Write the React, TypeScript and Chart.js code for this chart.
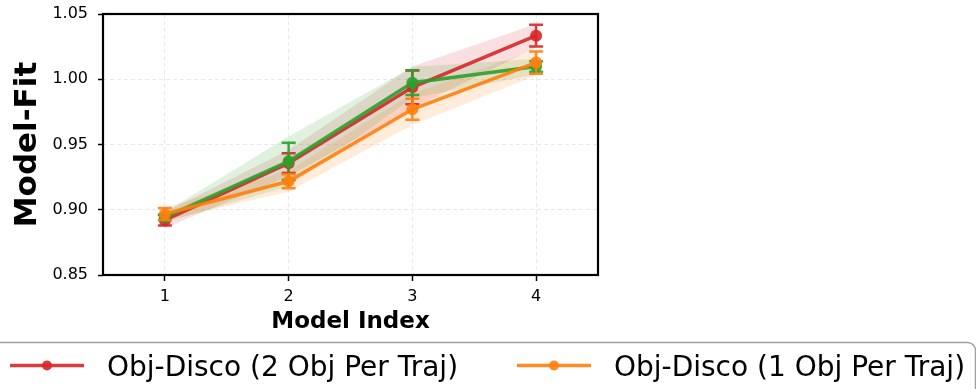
import { useEffect, useRef } from 'react';
import { Chart, registerables } from 'chart.js';

Chart.register(...registerables);

const categories = ['1', '2', '3', '4'];
const yTicks = [0.85, 0.9, 0.95, 1.0, 1.05];

const seriesLabels = ['Obj-Disco (2 Obj Per Traj)', 'Obj-Disco (1 Obj Per Traj)', 'Obj-Disco'];

const redMean = [0.892, 0.9357, 0.9938, 1.0334];
const redErr = [0.004, 0.0075, 0.013, 0.0083];
const redBand = [0.006, 0.01, 0.016, 0.009];

const orangeMean = [0.8967, 0.9218, 0.977, 1.0128];
const orangeErr = [0.0046, 0.0054, 0.008, 0.0085];
const orangeBand = [0.005, 0.008, 0.012, 0.01];

const greenMean = [0.8942, 0.9371, 0.9974, 1.0097];
const greenErr = [0.002, 0.0143, 0.0095, 0.004];
const greenBand = [0.004, 0.019, 0.012, 0.006];

const RED = '214,39,40';
const ORANGE = '255,127,14';
const GREEN = '44,160,44';

type Series = { label: string; rgb: string; mean: number[]; err: number[]; band: number[]; order: number };

const series: Series[] = [
  { label: seriesLabels[0], rgb: RED, mean: redMean, err: redErr, band: redBand, order: 2 },
  { label: seriesLabels[1], rgb: ORANGE, mean: orangeMean, err: orangeErr, band: orangeBand, order: 0 },
  { label: seriesLabels[2], rgb: GREEN, mean: greenMean, err: greenErr, band: greenBand, order: 1 },
];

const FONT = "'DejaVu Sans', sans-serif";

export default function App() {
  const ref = useRef<HTMLCanvasElement | null>(null);

  useEffect(() => {
    const canvas = ref.current;
    if (!canvas) return;
    document.body.style.margin = '0';

    const datasets: any[] = [];
    series.forEach((s) => {
      datasets.push({
        label: s.label + ' upper',
        data: s.mean.map((m, i) => m + s.band[i]),
        borderWidth: 0,
        pointRadius: 0,
        fill: false,
        order: 10 + s.order,
      });
      datasets.push({
        label: s.label + ' lower',
        data: s.mean.map((m, i) => m - s.band[i]),
        borderWidth: 0,
        pointRadius: 0,
        fill: '-1',
        backgroundColor: `rgba(${s.rgb},0.15)`,
        order: 10 + s.order,
      });
      datasets.push({
        label: s.label,
        data: s.mean,
        borderColor: `rgba(${s.rgb},0.9)`,
        backgroundColor: `rgba(${s.rgb},0.9)`,
        pointBackgroundColor: `rgba(${s.rgb},0.9)`,
        pointBorderWidth: 0,
        pointRadius: 6,
        borderWidth: 3.5,
        fill: false,
        order: s.order,
        errors: s.err,
        rgb: s.rgb,
      });
    });

    const errorBarPlugin = {
      id: 'errorBars',
      afterDatasetDraw(chart: any, args: any) {
        const ds = chart.data.datasets[args.index];
        if (!ds.errors) return;
        const ctx = chart.ctx;
        const x = chart.scales.x;
        const y = chart.scales.y;
        ctx.save();
        ctx.strokeStyle = `rgba(${ds.rgb},0.9)`;
        ctx.lineWidth = 2.5;
        ds.data.forEach((v: number, i: number) => {
          const px = x.getPixelForValue(i);
          const top = y.getPixelForValue(v + ds.errors[i]);
          const bot = y.getPixelForValue(v - ds.errors[i]);
          ctx.beginPath();
          ctx.moveTo(px, top);
          ctx.lineTo(px, bot);
          ctx.moveTo(px - 7, top);
          ctx.lineTo(px + 7, top);
          ctx.moveTo(px - 7, bot);
          ctx.lineTo(px + 7, bot);
          ctx.stroke();
        });
        ctx.restore();
      },
    };

    const framePlugin = {
      id: 'frameLegend',
      afterDraw(chart: any) {
        const ctx = chart.ctx;
        const a = chart.chartArea;
        ctx.save();
        ctx.strokeStyle = '#000';
        ctx.lineWidth = 2.2;
        ctx.strokeRect(a.left, a.top, a.right - a.left, a.bottom - a.top);

        // legend box
        ctx.strokeStyle = 'rgba(150,150,150,0.9)';
        ctx.lineWidth = 1.5;
        ctx.beginPath();
        (ctx as any).roundRect(-20, 342.5, 995.5, 120, 8);
        ctx.stroke();

        const entries = [
          { s: series[0], x: 10, y: 365.5 },
          { s: series[1], x: 517, y: 365.5 },
          { s: series[2], x: 10, y: 407 },
        ];
        entries.forEach((e) => {
          ctx.strokeStyle = `rgba(${e.s.rgb},0.9)`;
          ctx.fillStyle = `rgba(${e.s.rgb},0.9)`;
          ctx.lineWidth = 3.5;
          ctx.beginPath();
          ctx.moveTo(e.x, e.y);
          ctx.lineTo(e.x + 74, e.y);
          ctx.stroke();
          ctx.beginPath();
          ctx.arc(e.x + 37, e.y, 5, 0, Math.PI * 2);
          ctx.fill();
          ctx.fillStyle = '#000';
          ctx.font = `28px ${FONT}`;
          ctx.textBaseline = 'alphabetic';
          ctx.textAlign = 'left';
          ctx.fillText(e.s.label, e.x + 97, e.y + 10.5);
        });
        ctx.restore();
      },
    };

    const chart = new Chart(canvas, {
      type: 'line',
      data: { labels: categories, datasets },
      plugins: [errorBarPlugin, framePlugin],
      options: {
        animation: false,
        responsive: false,
        devicePixelRatio: 1,
        layout: { padding: { left: 0, top: 14, right: 378, bottom: 54 } },
        plugins: { legend: { display: false }, tooltip: { enabled: false } },
        elements: { line: { tension: 0 } },
        scales: {
          x: {
            type: 'category',
            offset: true,
            afterFit: (s: any) => {
              s.height = 60;
              s.paddingLeft = 0;
              s.paddingRight = 0;
            },
            grid: {
              offset: false,
              color: 'rgba(0,0,0,0.09)',
              lineWidth: 1,
              drawTicks: true,
              tickLength: 6,
              tickColor: '#000',
              tickWidth: 1.5,
              tickBorderDash: [],
            },
            border: { display: false, dash: [4, 3] },
            ticks: { color: '#000', font: { family: FONT, size: 16 }, padding: 6, maxRotation: 0 },
            title: {
              display: true,
              text: 'Model Index',
              color: '#000',
              font: { family: FONT, size: 23, weight: 'bold', lineHeight: 1 },
              padding: { top: 0, bottom: 1 },
            },
          },
          y: {
            type: 'linear',
            min: 0.85,
            max: 1.05,
            afterFit: (s: any) => {
              s.width = 103;
              s.paddingTop = 0;
              s.paddingBottom = 0;
            },
            afterBuildTicks: (s: any) => {
              s.ticks = yTicks.map((v) => ({ value: v }));
            },
            grid: {
              color: 'rgba(0,0,0,0.09)',
              lineWidth: 1,
              drawTicks: true,
              tickLength: 5,
              tickColor: '#000',
              tickWidth: 1.5,
              tickBorderDash: [],
            },
            border: { display: false, dash: [4, 3] },
            ticks: {
              color: '#000',
              font: { family: FONT, size: 16 },
              padding: 10,
              callback: (v: any) => Number(v).toFixed(2),
            },
            title: {
              display: true,
              text: 'Model-Fit',
              color: '#000',
              font: { family: FONT, size: 31, weight: 'bold', lineHeight: 1 },
              padding: { top: 12, bottom: 0 },
            },
          },
        },
      } as any,
    });

    return () => chart.destroy();
  }, []);

  return (
    <div style={{ position: 'absolute', left: 0, top: 0, width: 976, height: 389 }}>
      <canvas ref={ref} width={976} height={389} style={{ width: 976, height: 389 }} />
    </div>
  );
}
